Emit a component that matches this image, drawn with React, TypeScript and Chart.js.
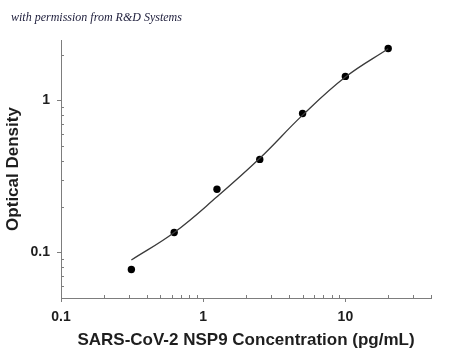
import React, { useEffect, useRef } from "react";
import { Chart, registerables } from "chart.js";

Chart.register(...registerables);

// Measured standards (concentration pg/mL, optical density)
const standardConc = [0.3125, 0.625, 1.25, 2.5, 5, 10, 20];
const standardOD = [0.077, 0.135, 0.26, 0.409, 0.82, 1.44, 2.2];

// Fitted curve
const curveConc = [0.3125, 0.625, 1.25, 2.5, 5, 10, 20];
const curveOD = [0.089, 0.135, 0.232, 0.416, 0.8, 1.426, 2.19];

// Axis ticks
const xMajorTicks = [0.1, 1, 10];
const xTickLabels = ["0.1", "1", "10"];
const xMinorTicks = [0.2, 0.3, 0.4, 0.5, 0.6, 0.7, 0.8, 0.9, 2, 3, 4, 5, 6, 7, 8, 9, 20, 30, 40];
const yMajorTicks = [0.1, 1];
const yTickLabels = ["0.1", "1"];
const yMinorTicks = [0.06, 0.07, 0.08, 0.09, 0.2, 0.3, 0.4, 0.5, 0.6, 0.7, 0.8, 0.9, 2];

const xTitle = "SARS-CoV-2 NSP9 Concentration (pg/mL)";
const yTitle = "Optical Density";
const credit = "with permission from R&D Systems";

const AXIS = "#7d7d7d";
const TEXT = "#1e1e1e";
const FONT = "'Liberation Sans', Arial, sans-serif";

const tickMarks = {
  id: "tickMarks",
  afterDraw(chart: any) {
    const ctx = chart.ctx;
    const xs = chart.scales.x;
    const ys = chart.scales.y;
    const { left, bottom } = chart.chartArea;
    ctx.save();
    ctx.strokeStyle = AXIS;
    ctx.lineWidth = 1;
    const seg = (x1: number, y1: number, x2: number, y2: number) => {
      ctx.beginPath();
      ctx.moveTo(x1, y1);
      ctx.lineTo(x2, y2);
      ctx.stroke();
    };
    xMajorTicks.forEach((v) => {
      const p = Math.round(xs.getPixelForValue(v)) + 0.5;
      seg(p, bottom, p, bottom + 4);
    });
    xMinorTicks.forEach((v) => {
      const p = Math.round(xs.getPixelForValue(v)) + 0.5;
      seg(p, bottom, p, bottom - 3);
    });
    yMajorTicks.forEach((v) => {
      const p = Math.round(ys.getPixelForValue(v)) + 0.5;
      seg(left, p, left - 4, p);
    });
    yMinorTicks.forEach((v) => {
      const p = Math.round(ys.getPixelForValue(v)) + 0.5;
      seg(left, p, left + 3, p);
    });
    ctx.restore();
  },
};

export default function App() {
  const ref = useRef<HTMLCanvasElement | null>(null);

  useEffect(() => {
    if (!ref.current) return;
    const chart = new Chart(ref.current, {
      type: "scatter",
      data: {
        datasets: [
          {
            type: "line",
            data: curveConc.map((c, i) => ({ x: c, y: curveOD[i] })),
            borderColor: "#3a3a3a",
            borderWidth: 1.3,
            pointRadius: 0,
            tension: 0.4,
            fill: false,
          } as any,
          {
            type: "scatter",
            data: standardConc.map((c, i) => ({ x: c, y: standardOD[i] })),
            backgroundColor: "#000",
            borderWidth: 0,
            pointRadius: 3.7,
          },
        ],
      },
      options: {
        responsive: false,
        animation: false,
        layout: { padding: { top: 40, right: 19, left: 0, bottom: 0 } },
        plugins: { legend: { display: false }, tooltip: { enabled: false } },
        scales: {
          x: {
            type: "logarithmic",
            min: 0.1,
            max: 40,
            position: "bottom",
            grid: { display: false, drawTicks: false },
            border: { display: true, color: AXIS, width: 1 },
            afterBuildTicks: (s: any) => {
              s.ticks = xMajorTicks.map((v) => ({ value: v }));
            },
            afterFit: (s: any) => {
              s.height = 57;
            },
            ticks: {
              autoSkip: false,
              maxRotation: 0,
              padding: 11,
              color: TEXT,
              font: { family: FONT, size: 14, weight: "bold" },
              callback: (v: any) => xTickLabels[xMajorTicks.indexOf(Number(v))] ?? "",
            },
            title: {
              display: true,
              text: xTitle,
              color: TEXT,
              font: { family: FONT, size: 17, weight: "bold" },
              padding: { top: 0, bottom: 4 },
            },
          },
          y: {
            type: "logarithmic",
            min: 0.05,
            max: 2.5,
            position: "left",
            grid: { display: false, drawTicks: false },
            border: { display: true, color: AXIS, width: 1 },
            afterBuildTicks: (s: any) => {
              s.ticks = yMajorTicks.map((v) => ({ value: v }));
            },
            afterFit: (s: any) => {
              s.width = 61;
            },
            ticks: {
              autoSkip: false,
              padding: 11,
              color: TEXT,
              font: { family: FONT, size: 14, weight: "bold" },
              callback: (v: any) => yTickLabels[yMajorTicks.indexOf(Number(v))] ?? "",
            },
            title: {
              display: true,
              text: yTitle,
              color: TEXT,
              font: { family: FONT, size: 17, weight: "bold" },
              padding: { top: 3, bottom: 0 },
            },
          },
        },
      } as any,
      plugins: [tickMarks],
    });
    return () => chart.destroy();
  }, []);

  return (
    <div style={{ position: "absolute", left: 0, top: 0, width: 450, height: 355, background: "#fff" }}>
      <canvas ref={ref} width={450} height={355} style={{ display: "block" }} />
      <div
        style={{
          position: "absolute",
          left: 11,
          top: 10,
          fontFamily: "'Liberation Serif', serif",
          fontStyle: "italic",
          fontSize: 12,
          color: "#1c1c3a",
          whiteSpace: "nowrap",
          lineHeight: "14px",
        }}
      >
        {credit}
      </div>
    </div>
  );
}
